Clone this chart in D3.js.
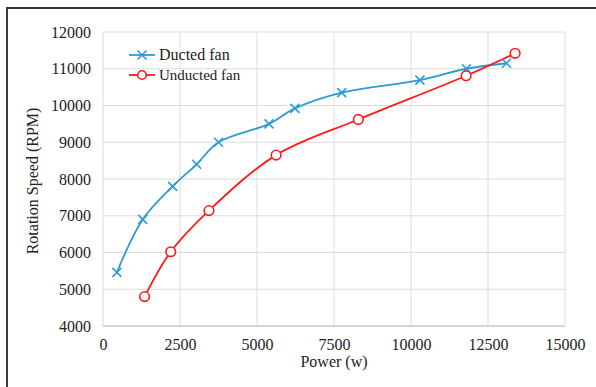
<!DOCTYPE html>
<html>
<head>
<meta charset="utf-8">
<script src="https://cdn.jsdelivr.net/npm/d3@7"></script>
<style>
  body { margin: 0; background: #fff; }
  svg { display: block; font-family: "Liberation Serif", "Times New Roman", serif; }
  svg text { font-family: "Liberation Serif", "Times New Roman", serif; }
</style>
</head>
<body>
<script>
// values
var ductedPower = [450, 1290, 2260, 3040, 3750, 5390, 6230, 7750, 10290, 11800, 13100];
var ductedRpm   = [5460, 6900, 7800, 8400, 9000, 9500, 9920, 10350, 10690, 11000, 11150];
var unductedPower = [1350, 2200, 3440, 5620, 8290, 11790, 13380];
var unductedRpm   = [4800, 6020, 7140, 8650, 9620, 10810, 11420];
var xTicks = [0, 2500, 5000, 7500, 10000, 12500, 15000];
var yTicks = [4000, 5000, 6000, 7000, 8000, 9000, 10000, 11000, 12000];

var outerWidth = 596, outerHeight = 387;
var margin = { left: 103, top: 32, right: 31, bottom: 61 };
var innerWidth  = outerWidth  - margin.left - margin.right;
var innerHeight = outerHeight - margin.top  - margin.bottom;

var blue = "#2b9bd8", red = "#ff1a1a";

var svg = d3.select("body").append("svg")
  .attr("width", outerWidth)
  .attr("height", outerHeight);

// frame of the figure (left and top edges only visible)
svg.append("path")
  .attr("d", "M7,387V8H596")
  .attr("fill", "none")
  .attr("stroke", "#3a3a3a")
  .attr("stroke-width", 2);

var g = svg.append("g")
  .attr("transform", "translate(" + margin.left + "," + margin.top + ")");

var xScale = d3.scaleLinear().domain([0, 15000]).range([0, innerWidth]);
var yScale = d3.scaleLinear().domain([4000, 12000]).range([innerHeight, 0]);

// grid
g.selectAll(".vgrid").data(xTicks).enter().append("line")
  .attr("x1", function (d){ return xScale(d); })
  .attr("x2", function (d){ return xScale(d); })
  .attr("y1", 0).attr("y2", innerHeight)
  .attr("stroke", "#dcdcdc").attr("stroke-width", 1);
g.selectAll(".hgrid").data(yTicks).enter().append("line")
  .attr("x1", 0).attr("x2", innerWidth)
  .attr("y1", function (d){ return yScale(d); })
  .attr("y2", function (d){ return yScale(d); })
  .attr("stroke", function (d){ return d === 4000 ? "#c8c8c8" : "#dcdcdc"; })
  .attr("stroke-width", function (d){ return d === 4000 ? 1.5 : 1; });

// axes (text only, Excel style)
var xAxis = g.append("g")
  .attr("transform", "translate(0," + innerHeight + ")")
  .call(d3.axisBottom(xScale).tickValues(xTicks).tickSize(0).tickPadding(13).tickFormat(d3.format("d")));
var yAxis = g.append("g")
  .call(d3.axisLeft(yScale).tickValues(yTicks).tickSize(0).tickPadding(12).tickFormat(d3.format("d")));
[xAxis, yAxis].forEach(function (a){
  a.attr("font-family", null).attr("font-size", null);
  a.select(".domain").remove();
  a.selectAll("text")
    .style("font-size", "16px")
    .attr("fill", "#222");
});

// axis titles
svg.append("text")
  .attr("x", margin.left + innerWidth / 2)
  .attr("y", 367)
  .attr("text-anchor", "middle")
  .style("font-size", "16px")
  .attr("fill", "#222")
  .text("Power (w)");
svg.append("text")
  .attr("transform", "translate(38," + (margin.top + innerHeight / 2 + 2) + ") rotate(-90)")
  .attr("text-anchor", "middle")
  .style("font-size", "16px")
  .attr("fill", "#222")
  .text("Rotation Speed (RPM)");

function zip(xs, ys){ return xs.map(function (x, i){ return [x, ys[i]]; }); }
var ducted = zip(ductedPower, ductedRpm);
var unducted = zip(unductedPower, unductedRpm);

var line = d3.line()
  .x(function (d){ return xScale(d[0]); })
  .y(function (d){ return yScale(d[1]); })
  .curve(d3.curveCatmullRom.alpha(0.5));

g.append("path").datum(ducted)
  .attr("d", line).attr("fill", "none")
  .attr("stroke", blue).attr("stroke-width", 1.8);
g.append("path").datum(unducted)
  .attr("d", line).attr("fill", "none")
  .attr("stroke", red).attr("stroke-width", 1.8);

var cross = "M-4.5,-4.5L4.5,4.5M-4.5,4.5L4.5,-4.5";
g.selectAll(".dmark").data(ducted).enter().append("path")
  .attr("transform", function (d){ return "translate(" + xScale(d[0]) + "," + yScale(d[1]) + ")"; })
  .attr("d", cross)
  .attr("stroke", blue).attr("stroke-width", 1.6).attr("fill", "none");
g.selectAll(".umark").data(unducted).enter().append("circle")
  .attr("cx", function (d){ return xScale(d[0]); })
  .attr("cy", function (d){ return yScale(d[1]); })
  .attr("r", 4.8)
  .attr("fill", "#fff")
  .attr("stroke", red).attr("stroke-width", 1.6);

// legend
var legend = svg.append("g");
var items = [
  { name: "Ducted fan", color: blue, y: 55, size: 16 },
  { name: "Unducted fan", color: red, y: 75, size: 15 }
];
items.forEach(function (it){
  legend.append("line")
    .attr("x1", 129).attr("x2", 155)
    .attr("y1", it.y).attr("y2", it.y)
    .attr("stroke", it.color).attr("stroke-width", 1.8);
  if (it.color === blue) {
    legend.append("path")
      .attr("transform", "translate(142," + it.y + ")")
      .attr("d", cross)
      .attr("stroke", blue).attr("stroke-width", 1.6).attr("fill", "none");
  } else {
    legend.append("circle")
      .attr("cx", 142).attr("cy", it.y).attr("r", 4.3)
      .attr("fill", "#fff").attr("stroke", red).attr("stroke-width", 1.6);
  }
  legend.append("text")
    .attr("x", 159).attr("y", it.y + 5)
    .style("font-size", it.size + "px")
    .attr("fill", "#222")
    .text(it.name);
});
</script>
</body>
</html>
